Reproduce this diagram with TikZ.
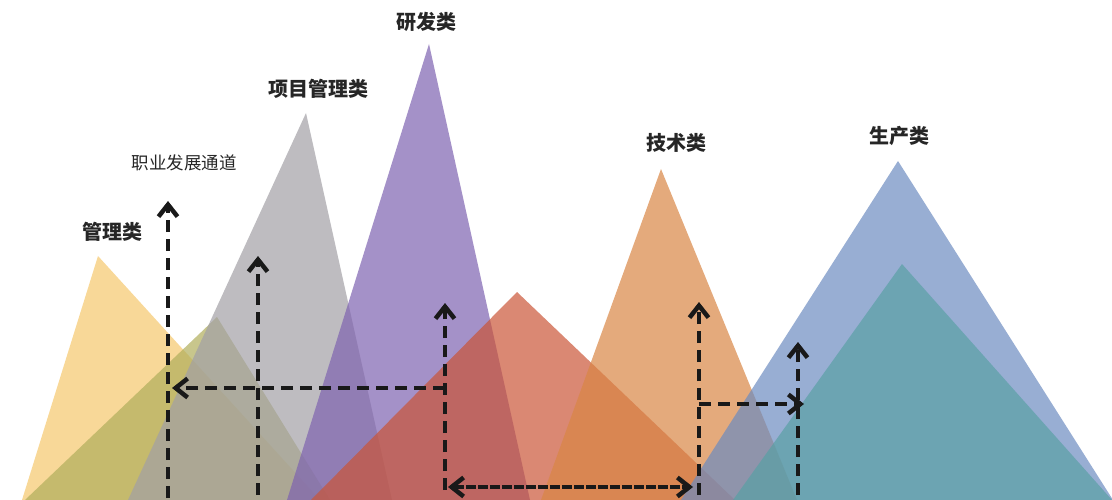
\documentclass[tikz,border=0pt]{standalone}
\usepackage{fontspec}
\newfontfamily\cjk{Noto Sans CJK SC}
\usetikzlibrary{arrows.meta}
\definecolor{cYellow}{HTML}{F5C76C}
\definecolor{cOlive}{HTML}{B0AE5B}
\definecolor{cGray}{HTML}{A2A0A5}
\definecolor{cPurple}{HTML}{7E62B0}
\definecolor{cRed}{HTML}{CA5537}
\definecolor{cOrange}{HTML}{D98645}
\definecolor{cBlue}{HTML}{6C8BC0}
\definecolor{cTeal}{HTML}{59A0A4}
\definecolor{cText}{HTML}{262626}
\tikzset{
  peak/.style={fill=#1, fill opacity=0.7, draw=none},
  lbl/.style={font=\cjk\bfseries\fontsize{20}{22}\selectfont, text=cText, inner sep=0pt},
  lblsmall/.style={font=\cjk\fontsize{17.5}{20}\selectfont, text=cText, inner sep=0pt},
  path arrow/.style={line width=4.5pt, dash pattern=on 12pt off 7pt, draw=black!90,
    -{Straight Barb[length=12pt,width=19pt]}},
  dense arrow/.style={line width=4.5pt, dash pattern=on 10pt off 2pt, draw=black!90,
    {Straight Barb[length=12pt,width=19pt]}-{Straight Barb[length=12pt,width=19pt]}}
}
\begin{document}
\begin{tikzpicture}[x=1pt,y=-1pt]
\useasboundingbox (0,0) rectangle (1112,500);
% peaks
\fill[peak=cYellow] (22,500) -- (98,256) -- (320,500) -- cycle;
\fill[peak=cOlive] (25,500) -- (217,317) -- (330,500) -- cycle;
\fill[peak=cGray] (128,500) -- (306,113) -- (392,500) -- cycle;
\fill[peak=cPurple] (287,500) -- (429,44) -- (530,500) -- cycle;
\fill[peak=cRed] (311,500) -- (517,292) -- (735,500) -- cycle;
\fill[peak=cOrange] (541,500) -- (661,169) -- (797,500) -- cycle;
\fill[peak=cBlue] (681,500) -- (898,161) -- (1113,500) -- cycle;
\fill[peak=cTeal] (733,500) -- (902,264) -- (1112,500) -- cycle;
% labels
\node[lbl] (rd) at (426,22) {研发类};
\node[lbl] (pm) at (318,89) {项目管理类};
\node[lblsmall] (cd) at (184,163) {职业发展通道};
\node[lbl] (mg) at (112,232) {管理类};
\node[lbl] (js) at (676,143) {技术类};
\node[lbl] (sc) at (899,136) {生产类};
% arrow end points
\coordinate (a1b) at (168,498);
\coordinate (a1t) at (168,201);
\coordinate (a2b) at (258,495);
\coordinate (a2t) at (258,256);
\coordinate (a3b) at (445,490);
\coordinate (a3t) at (445,303);
\coordinate (a3m) at (445,388);
\coordinate (a4t) at (172,388);
\coordinate (hl) at (448,487);
\coordinate (hr) at (693,487);
\coordinate (a6b) at (699,495);
\coordinate (a6t) at (699,302);
\coordinate (a6m) at (699,404);
\coordinate (a7t) at (804,404);
\coordinate (a8b) at (798,495);
\coordinate (a8t) at (798,342);
% arrows
\draw[path arrow] (a1b) -- (a1t);
\draw[path arrow] (a2b) -- (a2t);
\draw[path arrow] (a3b) -- (a3t);
\draw[path arrow] (a3m) -- (a4t);
\draw[dense arrow] (hl) -- (hr);
\draw[path arrow] (a6b) -- (a6t);
\draw[path arrow] (a6m) -- (a7t);
\draw[path arrow] (a8b) -- (a8t);
\end{tikzpicture}
\end{document}
